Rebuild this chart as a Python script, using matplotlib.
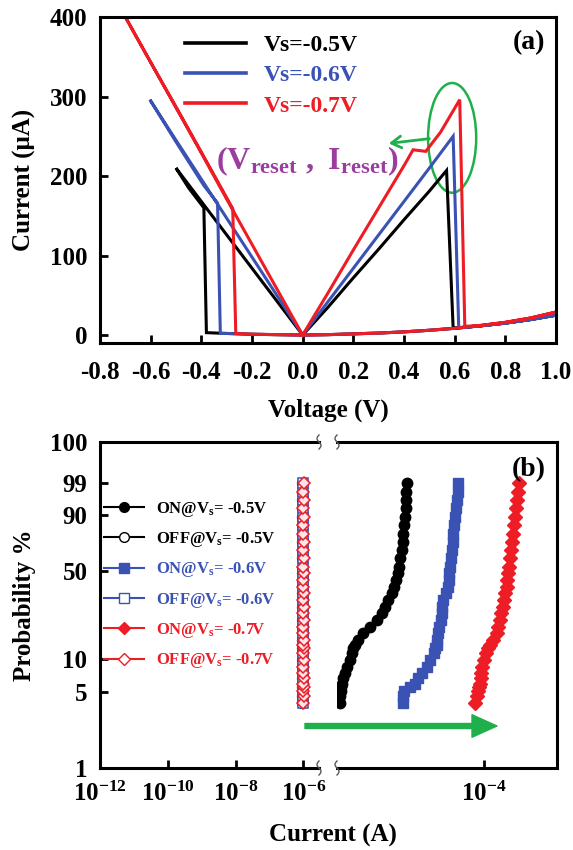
import numpy as np
import matplotlib
matplotlib.use('Agg')
import matplotlib.pyplot as plt
from matplotlib.lines import Line2D
from matplotlib.patches import Ellipse, FancyArrowPatch
from matplotlib.ticker import FixedLocator, FixedFormatter, NullLocator

plt.rcParams['font.family'] = ['Liberation Serif', 'DejaVu Serif']
plt.rcParams['font.weight'] = 'bold'
plt.rcParams['axes.labelweight'] = 'bold'
plt.rcParams['mathtext.fontset'] = 'custom'
plt.rcParams['mathtext.rm'] = 'Liberation Serif:bold'
plt.rcParams['mathtext.it'] = 'Liberation Serif:bold'
plt.rcParams['mathtext.bf'] = 'Liberation Serif:bold'
plt.rcParams['axes.unicode_minus'] = False

# ---------------- data: panel (a) I-V sweeps ----------------
series_a = ['Vs=-0.5V', 'Vs=-0.6V', 'Vs=-0.7V']
v_05 = [0, -0.1, -0.2, -0.3, -0.38, -0.39, -0.45, -0.50, -0.4, -0.3, -0.2, -0.1, 0,
        0.1, 0.2, 0.3, 0.4, 0.5, 0.568, 0.594, 0.7, 0.8, 0.9, 1.0,
        0.9, 0.8, 0.7, 0.6, 0.5, 0.4, 0.3, 0.2, 0.1, 0]
i_05 = [0, 0.5, 1, 2, 3, 160, 185, 210, 168, 126, 84, 42, 0,
        35, 72, 108, 145, 181, 207, 8.5, 11.5, 15, 19.5, 25,
        19.5, 15, 11.5, 8.5, 6, 4, 2.5, 1.5, 0.5, 0]
v_06 = [0, -0.1, -0.2, -0.3, -0.325, -0.336, -0.39, -0.5, -0.603, -0.5, -0.4, -0.3, -0.2, -0.1, 0,
        0.1, 0.2, 0.3, 0.4, 0.5, 0.594, 0.616, 0.7, 0.8, 0.9, 1.0,
        0.9, 0.8, 0.7, 0.6, 0.5, 0.4, 0.3, 0.2, 0.1, 0]
i_06 = [0, 0.5, 1, 2, 2, 166, 188, 243, 296, 245, 196, 147, 98, 49, 0,
        42, 84, 126, 168, 210, 250, 9.5, 11.5, 15, 19.5, 25,
        19.5, 15, 11.5, 8.5, 6, 4, 2.5, 1.5, 0.5, 0]
v_07 = [0, -0.1, -0.2, -0.264, -0.276, -0.4, -0.5, -0.6, -0.70, -0.6, -0.5, -0.4, -0.3, -0.2, -0.1, 0,
        0.1, 0.2, 0.3, 0.4, 0.436, 0.486, 0.544, 0.620, 0.640, 0.7, 0.8, 0.9, 1.0,
        0.9, 0.8, 0.7, 0.6, 0.5, 0.4, 0.3, 0.2, 0.1, 0]
i_07 = [0, 0.5, 1, 2, 159, 230, 287, 343, 400, 343, 286, 229, 171, 114, 57, 0,
        53, 107, 160, 213, 233, 231, 255, 296, 11, 12, 16, 21.5, 29,
        21.5, 16, 12, 8.5, 6, 4, 2.5, 1.5, 0.5, 0]

# ---------------- data: panel (b) cumulative distributions ----------------
prob_pct = [4.0, 4.6, 5.1, 5.6, 6.0, 6.7, 7.4, 8.5, 9.8, 11.2, 12.4, 13.2, 14.6, 16.7,
            19.0, 21.6, 24.4, 27.6, 31.1, 35.0, 39.1, 43.6, 48.4, 53.4, 59.9, 66.4,
            72.9, 79.0, 84.6, 89.3, 93.1, 95.9, 97.8, 99.0]
on_05 = [1.10e-6, 1.11e-6, 1.12e-6, 1.15e-6, 1.16e-6, 1.22e-6, 1.29e-6, 1.38e-6, 1.50e-6,
         1.59e-6, 1.67e-6, 1.76e-6, 1.96e-6, 2.29e-6, 2.82e-6, 3.55e-6, 4.07e-6, 4.52e-6,
         5.02e-6, 5.58e-6, 6.00e-6, 6.39e-6, 6.73e-6, 7.02e-6, 7.32e-6, 7.64e-6, 7.88e-6,
         8.05e-6, 8.30e-6, 8.48e-6, 8.66e-6, 8.75e-6, 8.84e-6, 8.93e-6]
on_06 = [8.05e-6, 8.05e-6, 8.30e-6, 9.92e-6, 1.16e-5, 1.29e-5, 1.43e-5, 1.67e-5, 1.86e-5,
         2.07e-5, 2.18e-5, 2.29e-5, 2.34e-5, 2.42e-5, 2.49e-5, 2.60e-5, 2.69e-5, 2.74e-5,
         2.83e-5, 3.04e-5, 3.24e-5, 3.35e-5, 3.42e-5, 3.49e-5, 3.60e-5, 3.68e-5, 3.80e-5,
         3.87e-5, 4.00e-5, 4.08e-5, 4.21e-5, 4.30e-5, 4.44e-5, 4.53e-5]
on_07 = [7.66e-5, 8.07e-5, 8.50e-5, 8.68e-5, 8.96e-5, 9.15e-5, 9.34e-5, 9.64e-5, 9.95e-5,
         1.07e-4, 1.16e-4, 1.23e-4, 1.36e-4, 1.51e-4, 1.59e-4, 1.68e-4, 1.75e-4, 1.83e-4,
         1.89e-4, 1.97e-4, 2.07e-4, 2.11e-4, 2.18e-4, 2.23e-4, 2.30e-4, 2.37e-4, 2.47e-4,
         2.55e-4, 2.61e-4, 2.69e-4, 2.78e-4, 2.84e-4, 2.93e-4, 2.99e-4]
off_05 = [9.3e-7, 9.3e-7, 9.4e-7, 9.3e-7, 9.4e-7, 9.3e-7, 9.4e-7, 9.4e-7, 9.3e-7, 9.4e-7,
          9.3e-7, 9.4e-7, 9.4e-7, 9.3e-7, 9.4e-7, 9.3e-7, 9.4e-7, 9.3e-7, 9.4e-7, 9.4e-7,
          9.3e-7, 9.4e-7, 9.3e-7, 9.4e-7, 9.4e-7, 9.3e-7, 9.4e-7, 9.3e-7, 9.4e-7, 9.3e-7,
          9.4e-7, 9.4e-7, 9.3e-7, 9.4e-7]
off_06 = [9.6e-7, 9.7e-7, 9.6e-7, 9.7e-7, 9.6e-7, 9.6e-7, 9.7e-7, 9.6e-7, 9.7e-7, 9.6e-7,
          9.7e-7, 9.6e-7, 9.6e-7, 9.7e-7, 9.6e-7, 9.7e-7, 9.6e-7, 9.6e-7, 9.7e-7, 9.6e-7,
          9.7e-7, 9.6e-7, 9.6e-7, 9.7e-7, 9.6e-7, 9.7e-7, 9.6e-7, 9.6e-7, 9.7e-7, 9.6e-7,
          9.7e-7, 9.6e-7, 9.6e-7, 9.7e-7]
off_07 = [1.00e-6, 1.01e-6, 1.00e-6, 1.01e-6, 1.00e-6, 1.01e-6, 1.00e-6, 1.00e-6, 1.01e-6,
          1.00e-6, 1.01e-6, 1.00e-6, 1.01e-6, 1.00e-6, 1.00e-6, 1.01e-6, 1.00e-6, 1.01e-6,
          1.00e-6, 1.01e-6, 1.00e-6, 1.00e-6, 1.01e-6, 1.00e-6, 1.01e-6, 1.00e-6, 1.01e-6,
          1.00e-6, 1.00e-6, 1.01e-6, 1.00e-6, 1.01e-6, 1.00e-6, 1.01e-6]
labels_b = [r'ON@V$_\mathregular{s}$= -0.5V', r'OFF@V$_\mathregular{s}$= -0.5V',
            r'ON@V$_\mathregular{s}$= -0.6V', r'OFF@V$_\mathregular{s}$= -0.6V',
            r'ON@V$_\mathregular{s}$= -0.7V', r'OFF@V$_\mathregular{s}$= -0.7V']
xt_left = [1e-12, 1e-10, 1e-8, 1e-6]
xt_left_lab = [r'$\mathregular{10^{-12}}$', r'$\mathregular{10^{-10}}$',
               r'$\mathregular{10^{-8}}$', r'$\mathregular{10^{-6}}$']
xt_right = [1e-4]
xt_right_lab = [r'$\mathregular{10^{-4}}$']
yt_prob = ['1', '5', '10', '50', '90', '99', '100']

BLACK = '#000000'
BLUE = '#3a52b4'
RED = '#ee1c25'
GREEN = '#1fb04b'
PURPLE = '#9b3d9f'

W, H = 573, 850
fig = plt.figure(figsize=(W / 100, H / 100), dpi=100)


def box(l, t, r, b):
    return [l / W, 1 - b / H, (r - l) / W, (b - t) / H]


def style_ticks(ax, **kw):
    ax.tick_params(direction='in', length=6, width=2, labelsize=18, **kw)
    for s in ax.spines.values():
        s.set_linewidth(2.2)


# ---------------- panel (a) ----------------
axa = fig.add_axes(box(100, 17, 556, 343))
for v, i, c, lab in zip([v_05, v_06, v_07], [i_05, i_06, i_07], [BLACK, BLUE, RED], series_a):
    axa.plot(v, i, color=c, lw=2.2, label=lab, solid_joinstyle='miter')
axa.set_xlim(-0.8, 1.0)
axa.set_ylim(-10, 400)
axa.xaxis.set_major_locator(FixedLocator([-0.8, -0.6, -0.4, -0.2, 0.0, 0.2, 0.4, 0.6, 0.8, 1.0]))
axa.xaxis.set_major_formatter(FixedFormatter(['-0.8', '-0.6', '-0.4', '-0.2', '0.0', '0.2',
                                              '0.4', '0.6', '0.8', '1.0']))
axa.yaxis.set_major_locator(FixedLocator([0, 100, 200, 300, 400]))
style_ticks(axa)
axa.tick_params(axis='x', pad=13)
axa.tick_params(axis='y', pad=9)
axa.set_ylabel('Current (\u03bcA)', fontsize=18)
axa.yaxis.set_label_coords(-0.14, 0.5)
axa.set_xlabel('Voltage (V)', fontsize=18)
axa.xaxis.set_label_coords(0.5, -0.17)
leg = axa.legend(loc='upper left', bbox_to_anchor=(0.186, 0.945), frameon=False,
                 fontsize=17, handlelength=2.6, handletextpad=0.75, labelspacing=0.36,
                 borderpad=0, borderaxespad=0, labelcolor='linecolor')
for ln in leg.get_lines():
    ln.set_linewidth(2.6)
axa.text(0.941, 0.92, '(a)', transform=axa.transAxes, fontsize=20, ha='center', va='center')
axa.add_patch(Ellipse((0.59, 248), 0.19, 138, fill=False, ec=GREEN, lw=1.8))
axa.annotate('', xy=(0.34, 241), xytext=(0.50, 247),
             arrowprops=dict(arrowstyle='->,head_length=0.5,head_width=0.3', color=GREEN,
                             lw=2, shrinkA=0, shrinkB=0, mutation_scale=14))
axa.text(0.02, 218, r'$\mathregular{(V_{reset}\ ,\ I_{reset})}$', color=PURPLE,
         fontsize=23, ha='center', va='center')

# ---------------- panel (b) ----------------
def wb_fwd(p):
    p = np.clip(np.asarray(p, dtype=float), 1e-9, 100 - 1e-12)
    return np.log(-np.log(1 - p / 100.0))


def wb_inv(w):
    return 100.0 * (1 - np.exp(-np.exp(np.asarray(w, dtype=float))))


axl = fig.add_axes(box(100, 442, 319, 768))
axr = fig.add_axes(box(337, 442, 557, 768), sharey=axl)
axl.set_yscale('function', functions=(wb_fwd, wb_inv))
y_top = float(wb_inv(2.414))
axl.set_ylim(1, y_top)
axl.yaxis.set_major_locator(FixedLocator([1, 5, 10, 50, 90, 99, y_top]))
axl.yaxis.set_major_formatter(FixedFormatter(yt_prob))
axl.yaxis.set_minor_locator(NullLocator())

for ax in (axl, axr):
    ax.set_xscale('log')
    ax.xaxis.set_minor_locator(NullLocator())
    style_ticks(ax)

axl.set_xlim(1e-12, 10 ** -5.54)
axr.set_xlim(1e-6, 1e-3)
axl.xaxis.set_major_locator(FixedLocator(xt_left))
axl.xaxis.set_major_formatter(FixedFormatter(xt_left_lab))
axr.xaxis.set_major_locator(FixedLocator(xt_right))
axr.xaxis.set_major_formatter(FixedFormatter(xt_right_lab))
axl.spines['right'].set_visible(False)
axr.spines['left'].set_visible(False)
axr.tick_params(axis='y', left=False, labelleft=False)
axl.tick_params(axis='x', pad=10)
axr.tick_params(axis='x', pad=10)
axl.tick_params(axis='y', pad=9)

# OFF states (left part)
axl.plot(off_05, prob_pct, color=BLACK, lw=1.2, marker='o', ms=7, mfc='white', mec=BLACK, mew=1.1)
axl.plot(off_06, prob_pct, color=BLUE, lw=1.2, marker='s', ms=6.5, mfc='white', mec=BLUE, mew=1.1)
axl.plot(off_07, prob_pct, color=RED, lw=1.2, marker='D', ms=6.5, mfc='#fde6e8', mec=RED, mew=1.1)
# ON states (right part)
axr.plot(on_05, prob_pct, color=BLACK, lw=2, marker='o', ms=7.5, mfc=BLACK, mec=BLACK)
axr.plot(on_06, prob_pct, color=BLUE, lw=2, marker='s', ms=7, mfc=BLUE, mec=BLUE)
axr.plot(on_07, prob_pct, color=RED, lw=2, marker='D', ms=7.5, mfc=RED, mec=RED)

handles = [
    Line2D([], [], color=BLACK, lw=1.5, marker='o', ms=7, mfc=BLACK, mec=BLACK),
    Line2D([], [], color=BLACK, lw=1.5, marker='o', ms=7, mfc='white', mec=BLACK),
    Line2D([], [], color=BLUE, lw=1.5, marker='s', ms=6.5, mfc=BLUE, mec=BLUE),
    Line2D([], [], color=BLUE, lw=1.5, marker='s', ms=6.5, mfc='white', mec=BLUE),
    Line2D([], [], color=RED, lw=1.5, marker='D', ms=6.5, mfc=RED, mec=RED),
    Line2D([], [], color=RED, lw=1.5, marker='D', ms=6.5, mfc='white', mec=RED),
]
axl.legend(handles, labels_b, loc='upper left', bbox_to_anchor=(0.02, 0.823), frameon=False,
           fontsize=12, handlelength=2.4, handletextpad=0.7, labelspacing=0.68,
           borderpad=0, borderaxespad=0, labelcolor='linecolor')

axr.text(0.873, 0.914, '(b)', transform=axr.transAxes, fontsize=20, ha='center', va='center')
fig.text(25 / W, 1 - 605 / H, 'Probability %', rotation=90, fontsize=18, ha='center', va='center')
fig.text(333 / W, 1 - 835 / H, 'Current (A)', fontsize=18, ha='center', va='center')

# axis break marks
t = np.linspace(-1, 1, 25)
for xp in (319, 337):
    for yp in (442, 768):
        xs = xp + 2.0 * np.sin(np.pi * t)
        ys = yp + 7.0 * t
        fig.add_artist(Line2D(xs / W, 1 - ys / H, transform=fig.transFigure,
                              color='0.35', lw=1.0))

# green arrow across the break
fig.add_artist(FancyArrowPatch((305 / W, 1 - 726 / H), (497 / W, 1 - 726 / H),
                               transform=fig.transFigure, color=GREEN, shrinkA=0, shrinkB=0,
                               arrowstyle='simple,head_length=1.0,head_width=0.9,tail_width=0.2',
                               mutation_scale=18))

fig.savefig('out.png', dpi=100)
